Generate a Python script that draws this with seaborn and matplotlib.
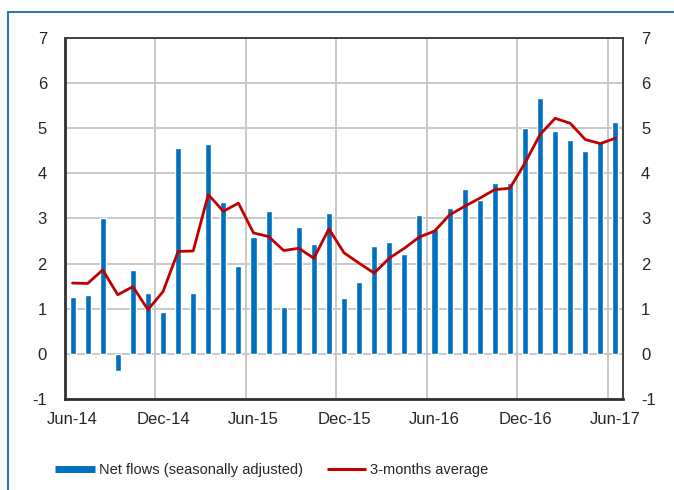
import numpy as np
import pandas as pd
import matplotlib
matplotlib.use("Agg")
import matplotlib.pyplot as plt
from matplotlib.lines import Line2D
from matplotlib.patches import Rectangle
import seaborn as sns

# Monthly data, Jun-14 .. Jun-17
months = pd.date_range("2014-06-01", periods=37, freq="MS").strftime("%b-%y").tolist()

net_flows = [1.27, 1.30, 3.02, -0.37, 1.85, 1.35, 0.93, 4.57, 1.36, 4.65,
             3.37, 1.94, 2.60, 3.17, 1.03, 2.81, 2.44, 3.12, 1.23, 1.59,
             2.40, 2.47, 2.21, 3.07, 2.76, 3.23, 3.65, 3.41, 3.78, 3.78,
             5.00, 5.68, 4.94, 4.73, 4.49, 4.71, 5.13]

avg_3m = [1.57, 1.56, 1.86, 1.31, 1.49, 0.98, 1.38, 2.27, 2.28, 3.53,
          3.16, 3.34, 2.68, 2.60, 2.29, 2.34, 2.12, 2.77, 2.24, 2.01,
          1.79, 2.12, 2.34, 2.59, 2.72, 3.08, 3.27, 3.45, 3.64, 3.67,
          4.23, 4.86, 5.22, 5.11, 4.75, 4.66, 4.78]

tick_labels = ["Jun-14", "Dec-14", "Jun-15", "Dec-15", "Jun-16", "Dec-16", "Jun-17"]

df = pd.DataFrame({"month": months, "net": net_flows, "avg": avg_3m})
df["pos"] = np.arange(len(df))

sns.set_style("white")
plt.rcParams["font.family"] = ["Liberation Sans", "DejaVu Sans"]
plt.rcParams["axes.unicode_minus"] = False

bar_col = "#0070C0"
line_col = "#C00000"

fig = plt.figure(figsize=(6.74, 4.90), dpi=100)
ax = fig.add_axes([65 / 674, 1 - 399 / 490, 558 / 674, 361 / 490])

sns.barplot(data=df, x="month", y="net", color=bar_col, width=0.4,
            saturation=1, ax=ax, zorder=3)
sns.lineplot(x=df["pos"], y=df["avg"], color=line_col, linewidth=2.0,
             ax=ax, zorder=4)

ax.set_xlim(-0.5, 36.5)
ax.set_ylim(-1, 7)
ax.set_yticks(range(-1, 8))
ax.set_xticks(np.arange(0, 37, 6))
ax.set_xticklabels(tick_labels)
ax.set_xticks(np.arange(-0.5, 37, 6), minor=True)
ax.set_xlabel("")
ax.set_ylabel("")

ax.grid(False)
ax.yaxis.grid(True, color="#C8C8C8", linewidth=1.4, zorder=0)
ax.xaxis.grid(True, which="minor", color="#C8C8C8", linewidth=1.4, zorder=0)
ax.set_axisbelow(True)

ax.tick_params(axis="y", length=0, labelsize=12, pad=13, right=True, labelright=True)
ax.tick_params(axis="x", which="both", length=0, labelsize=12, pad=9)

for side in ["top", "right"]:
    ax.spines[side].set_color("#404040")
    ax.spines[side].set_linewidth(1.4)
for side in ["left", "bottom"]:
    ax.spines[side].set_color("#303030")
    ax.spines[side].set_linewidth(2.0)

handles = [Line2D([], [], color=bar_col, linewidth=5, solid_capstyle="butt"),
           Line2D([], [], color=line_col, linewidth=2.2, solid_capstyle="butt")]
labels = ["Net flows (seasonally adjusted)", "3-months average"]
fig.legend(handles, labels, loc="center", bbox_to_anchor=(272 / 674, 1 - 470 / 490),
           ncol=2, frameon=False, fontsize=10.5, handlelength=2.7,
           handletextpad=0.3, columnspacing=1.6)

# blue frame around the chart
fig.patches.append(Rectangle((8 / 674, -0.5), 2, 1.5 - 12 / 490, fill=False,
                             edgecolor="#2E75B6", linewidth=1.5,
                             transform=fig.transFigure, figure=fig))

fig.savefig("out.png", dpi=100)
